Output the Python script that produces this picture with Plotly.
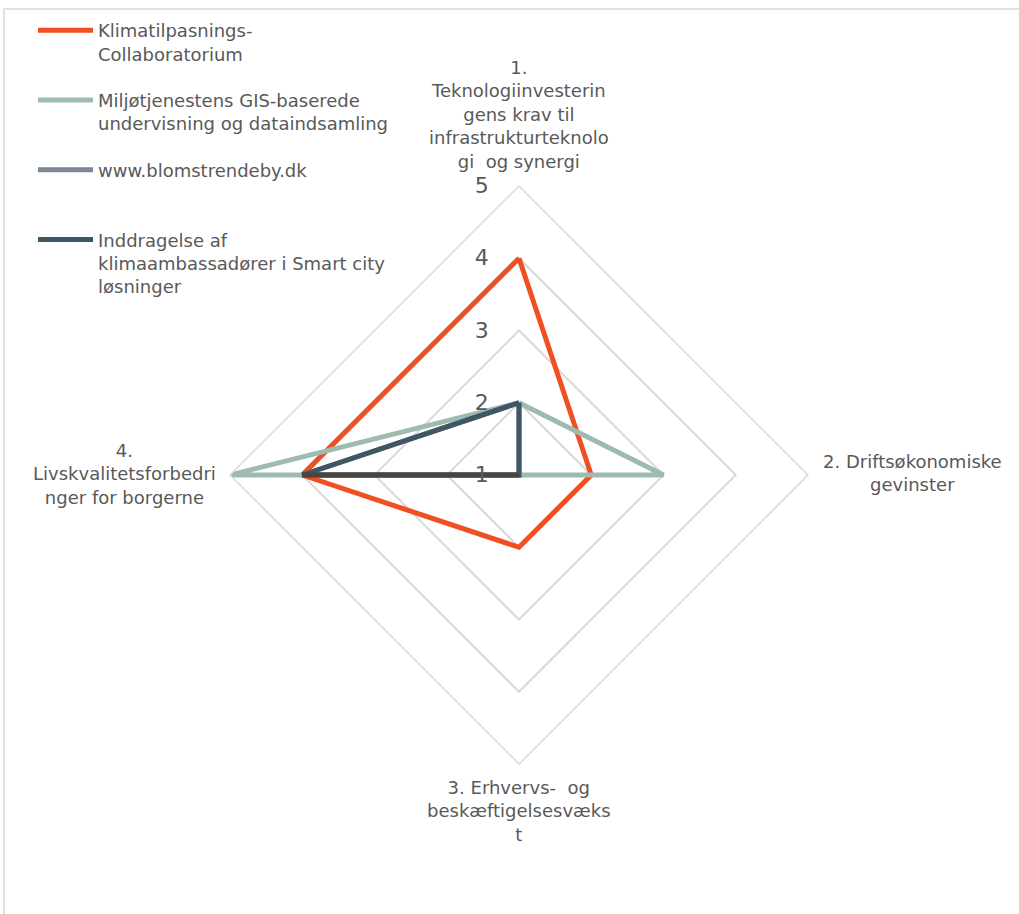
import plotly.graph_objects as go

# Axis categories (angular ticks)
categories = [
    "1.<br>Teknologiinvesterin<br>gens krav til<br>infrastrukturteknolo<br>gi  og synergi",
    "2. Driftsøkonomiske<br>gevinster",
    "3. Erhvervs-  og<br>beskæftigelsesvæks<br>t",
    "4.<br>Livskvalitetsforbedri<br>nger for borgerne",
]

# Scores per project (1-5)
klimatilpasning = [4, 2, 2, 4]
miljoetjenesten = [2, 3, 1, 5]
blomstrendeby = [2, 1, 1, 4]
inddragelse = [2, 1, 1, 4]
baseline = [1, 1, 1, 4]

radial_ticks = [1, 2, 3, 4, 5]

series = [
    ("Klimatilpasnings-<br>Collaboratorium", klimatilpasning, "#f04e23", True),
    ("Miljøtjenestens GIS-baserede<br>undervisning og dataindsamling", miljoetjenesten, "#9dbbae", True),
    ("www.blomstrendeby.dk<br> ", blomstrendeby, "#7c8798", True),
    ("Inddragelse af<br>klimaambassadører i Smart city<br>løsninger", inddragelse, "#3f5665", True),
    ("", baseline, "#4a4541", False),
]

fig = go.Figure()
for i, (name, vals, color, show) in enumerate(series):
    fig.add_trace(go.Scatterpolar(
        r=vals + vals[:1],
        theta=categories + categories[:1],
        mode="lines",
        name=name,
        legendgroup=f"g{i}",
        showlegend=show,
        line=dict(color=color, width=5),
        hoverinfo="skip",
    ))

W, H = 1019, 914
cx, cy, R = 519, 475, 289
TXT = "#595959"
GRID = "#d9d9d9"

# Category labels placed outside each vertex, centred
label_pos = [(519, 115), (912, 473), (519, 811), (124, 474)]
annotations = [
    dict(text=txt, x=px / W, y=1 - py / H, xref="paper", yref="paper",
         xanchor="center", yanchor="middle", align="center", showarrow=False,
         font=dict(size=18, color=TXT))
    for txt, (px, py) in zip(categories, label_pos)
]

fig.update_layout(
    width=W, height=H,
    margin=dict(l=0, r=0, t=0, b=0),
    paper_bgcolor="white",
    font=dict(family="DejaVu Sans", size=18, color=TXT),
    polar=dict(
        domain=dict(x=[(cx - R) / W, (cx + R) / W], y=[1 - (cy + R) / H, 1 - (cy - R) / H]),
        bgcolor="white",
        gridshape="linear",
        angularaxis=dict(
            rotation=90, direction="clockwise",
            showgrid=False, showline=True, linecolor=GRID, linewidth=1.5,
            ticks="", showticklabels=False,
        ),
        radialaxis=dict(
            range=[1, 5], tickvals=radial_ticks, angle=90, tickangle=90,
            side="counterclockwise",
            showline=False, gridcolor=GRID, gridwidth=1.5,
            ticks="outside", ticklen=22, tickcolor="rgba(0,0,0,0)",
            tickfont=dict(size=22, color=TXT),
        ),
    ),
    legend=dict(
        x=33 / W, y=1 - 12 / H, xanchor="left", yanchor="top",
        valign="top", itemwidth=55, tracegroupgap=20,
        font=dict(size=18, color=TXT),
        bgcolor="rgba(0,0,0,0)",
    ),
    annotations=annotations,
    shapes=[dict(
        type="rect", xref="paper", yref="paper",
        x0=4 / W, x1=1.02, y0=-0.02, y1=1 - 9 / H,
        line=dict(color=GRID, width=1.5), fillcolor="rgba(0,0,0,0)", layer="below",
    )],
)

fig.write_html("out.html")
